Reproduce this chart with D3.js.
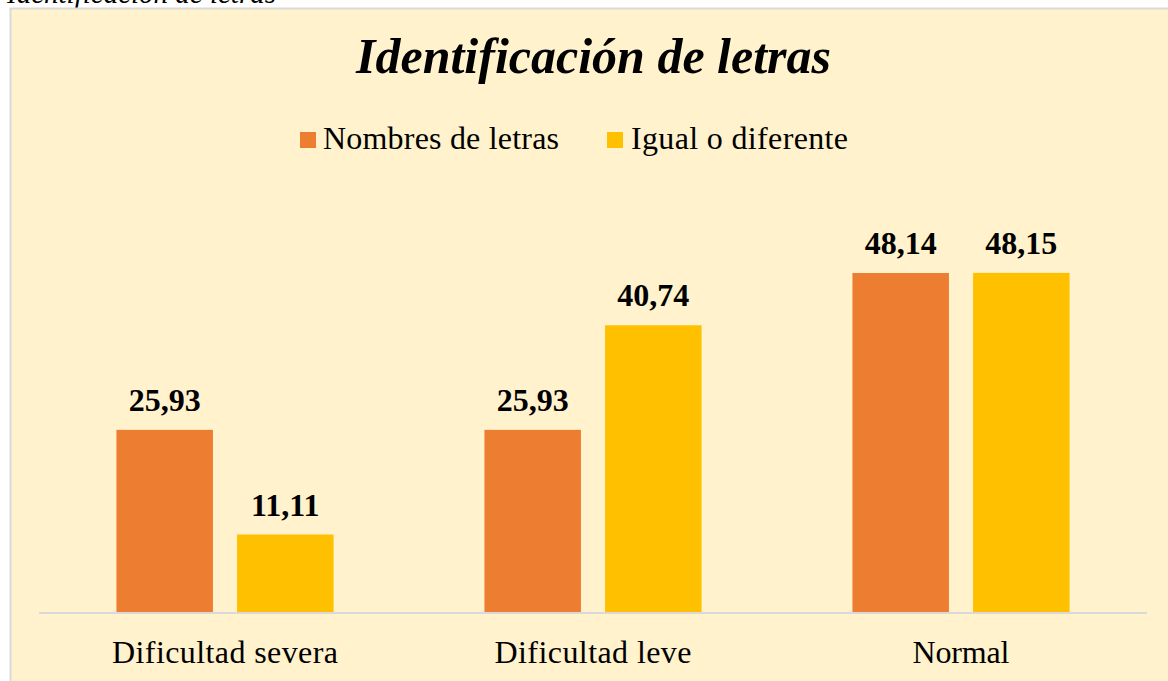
<!DOCTYPE html>
<html><head><meta charset="utf-8">
<script src="https://cdn.jsdelivr.net/npm/d3@7"></script>
<style>
html,body{margin:0;padding:0;background:#fff;}
svg{display:block;}
</style></head>
<body>
<svg id="chart" width="1168" height="681"></svg>
<script>
const categories = ["Dificultad severa", "Dificultad leve", "Normal"];
const seriesNames = ["Nombres de letras", "Igual o diferente"];
const nombresValues = [25.93, 25.93, 48.14];
const igualValues = [11.11, 40.74, 48.15];
const colors = ["#ED7D31", "#FFC000"];
const title = "Identificación de letras";
const caption = "Identificación de letras";

const svg = d3.select("#chart");
const W = 1168, H = 681;
const font = "'Liberation Serif','Times New Roman',serif";

// caption (cut off at top, as in the source page)
svg.append("text").attr("x", 7).attr("y", 3)
  .attr("font-family", font).attr("font-style", "italic")
  .attr("font-size", 29).attr("fill", "#000").text(caption);

// chart area
svg.append("rect").attr("x", 10.5).attr("y", 8.5).attr("width", W).attr("height", H)
  .attr("fill", "#FFF2CC").attr("stroke", "#D9D9D9").attr("stroke-width", 2);

const baseline = 613;
const x0 = d3.scaleBand().domain(categories).range([41, 1145]).paddingInner(0.41).paddingOuter(0.205);
const x1 = d3.scaleBand().domain(seriesNames).range([0, x0.bandwidth()]).paddingInner(0.2);
const y = d3.scaleLinear().domain([0, 48.14]).range([baseline, 273]);

const data = categories.map((c, i) => ({cat: c, vals: [nombresValues[i], igualValues[i]]}));

const g = svg.append("g");
const groups = g.selectAll("g.cat").data(data).join("g")
  .attr("transform", d => `translate(${x0(d.cat)},0)`);

groups.selectAll("rect").data(d => d.vals.map((v, j) => ({v, s: seriesNames[j], j})))
  .join("rect")
  .attr("x", d => x1(d.s)).attr("width", x1.bandwidth())
  .attr("y", d => y(d.v)).attr("height", d => baseline - y(d.v))
  .attr("fill", d => colors[d.j]);

groups.selectAll("text.val").data(d => d.vals.map((v, j) => ({v, s: seriesNames[j], j})))
  .join("text").attr("class", "val")
  .attr("x", d => x1(d.s) + x1.bandwidth() / 2)
  .attr("y", d => y(d.v) - 19)
  .attr("text-anchor", "middle")
  .attr("font-family", font).attr("font-weight", "bold").attr("font-size", 32)
  .attr("fill", "#000")
  .text(d => d3.format(".2f")(d.v).replace(".", ","));

// axis
const catLen = {"Dificultad severa": 226, "Dificultad leve": 197, "Normal": 97};
const axis = d3.axisBottom(x0).tickSize(0).tickPadding(0);
const ax = svg.append("g").attr("transform", `translate(0,${baseline})`).call(axis);
ax.select(".domain").attr("stroke", "#D9D9D9").attr("stroke-width", 2)
  .attr("d", `M39,0H1147`);
ax.selectAll("text").attr("font-family", font).attr("font-size", 32)
  .attr("fill", "#000").attr("dy", null).attr("y", 50)
  .attr("textLength", d => catLen[d]).attr("lengthAdjust", "spacing");

// title
svg.append("text").attr("x", 593.5).attr("y", 73).attr("text-anchor", "middle")
  .attr("font-family", font).attr("font-weight", "bold").attr("font-style", "italic")
  .attr("font-size", 50).attr("fill", "#000").text(title);

// legend
const legX = [300, 607];
const legLen = [236, 217];
const leg = svg.append("g");
seriesNames.forEach((s, i) => {
  leg.append("rect").attr("x", legX[i]).attr("y", 132).attr("width", 16).attr("height", 16)
    .attr("fill", colors[i]);
  leg.append("text").attr("x", legX[i] + 23 + (i === 1 ? 1 : 0)).attr("y", 149)
    .attr("font-family", font).attr("font-size", 32).attr("fill", "#000")
    .attr("textLength", legLen[i]).attr("lengthAdjust", "spacing").text(s);
});
</script>
</body></html>
